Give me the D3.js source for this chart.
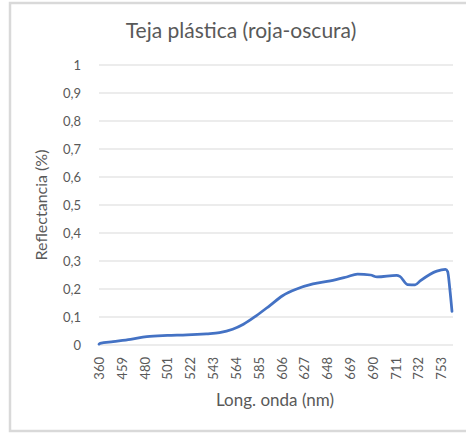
<!DOCTYPE html>
<html>
<head>
<meta charset="utf-8">
<script src="https://cdn.jsdelivr.net/npm/d3@7"></script>
<style>
  body { margin: 0; background: #fff; }
  svg text { font-family: Lato, "Open Sans", sans-serif; fill: #595959; }
</style>
</head>
<body>
<svg id="chart" width="466" height="434"></svg>
<script>
// categories: first reading at 360 nm, then every nm from 439 to 763
let categories = [360].concat(d3.range(439, 764));
let tickLabels = [360, 459, 480, 501, 522, 543, 564, 585, 606, 627, 648, 669, 690, 711, 732, 753];
let yTicks = [0, 0.1, 0.2, 0.3, 0.4, 0.5, 0.6, 0.7, 0.8, 0.9, 1];

// reflectance at selected wavelengths
let wavelengths = [360, 439, 451, 467, 482, 501, 519, 537, 549, 561, 571, 583, 595, 607, 620, 635, 651, 666, 676, 688, 694, 712, 715, 722, 729, 734, 749, 757, 759, 761, 763];
let reflectance = [0.003, 0.006, 0.012, 0.02, 0.03, 0.034, 0.036, 0.04, 0.044, 0.056, 0.074, 0.105, 0.14, 0.176, 0.2, 0.218, 0.229, 0.243, 0.253, 0.25, 0.243, 0.249, 0.245, 0.216, 0.215, 0.23, 0.264, 0.27, 0.262, 0.2, 0.12];

let chart = d3.select("#chart");

// outer frame
chart.append("rect")
    .attr("x", 10).attr("y", 3)
    .attr("width", 460).attr("height", 428)
    .attr("fill", "none")
    .attr("stroke", "#d9d9d9")
    .attr("stroke-width", 2.5);

let x = d3.scalePoint()
    .domain(categories)
    .range([99, 452]);

let y = d3.scaleLinear()
    .domain([0, 1])
    .range([345, 65]);

// gridlines
chart.append("g")
    .selectAll("line")
    .data(yTicks)
    .enter()
    .append("line")
    .attr("x1", 99).attr("x2", 453)
    .attr("y1", d => y(d)).attr("y2", d => y(d))
    .attr("stroke", "#d9d9d9")
    .attr("stroke-width", 1);

// y axis
let yAxis = d3.axisLeft(y)
    .tickValues(yTicks)
    .tickSize(0)
    .tickPadding(0)
    .tickFormat(d => String(d).replace(".", ","));
let yAxisGroup = chart.append("g")
    .attr("transform", "translate(81,0)")
    .call(yAxis);
yAxisGroup.select(".domain").remove();
yAxisGroup.selectAll("text")
    .style("font-size", "13px")
    .attr("dy", "0.35em");

// x axis
let xAxis = d3.axisBottom(x)
    .tickValues(tickLabels)
    .tickSize(0)
    .tickPadding(0);
let xAxisGroup = chart.append("g")
    .attr("transform", "translate(0,345)")
    .call(xAxis);
xAxisGroup.select(".domain").remove();
xAxisGroup.selectAll("text")
    .style("font-size", "13px")
    .style("text-anchor", "end")
    .attr("transform", "translate(0,12) rotate(-90)")
    .attr("x", 0)
    .attr("y", 0)
    .attr("dy", "0.35em");

// line
let points = wavelengths.map((w, i) => [w, reflectance[i]]);
let line = d3.line()
    .x(d => x(d[0]))
    .y(d => y(d[1]))
    .curve(d3.curveMonotoneX);
chart.append("path")
    .datum(points)
    .attr("d", line)
    .attr("fill", "none")
    .attr("stroke", "#4472c4")
    .attr("stroke-width", 2.75)
    .attr("stroke-linejoin", "round")
    .attr("stroke-linecap", "round");

// titles
chart.append("text")
    .text("Teja plástica (roja-oscura)")
    .attr("x", 241)
    .attr("y", 38)
    .style("font-size", "21px")
    .style("text-anchor", "middle");

chart.append("text")
    .text("Reflectancia (%)")
    .attr("transform", "translate(47,205) rotate(-90)")
    .style("font-size", "16px")
    .style("text-anchor", "middle");

chart.append("text")
    .text("Long. onda (nm)")
    .attr("x", 275)
    .attr("y", 406)
    .style("font-size", "17px")
    .style("text-anchor", "middle");
</script>
</body>
</html>
